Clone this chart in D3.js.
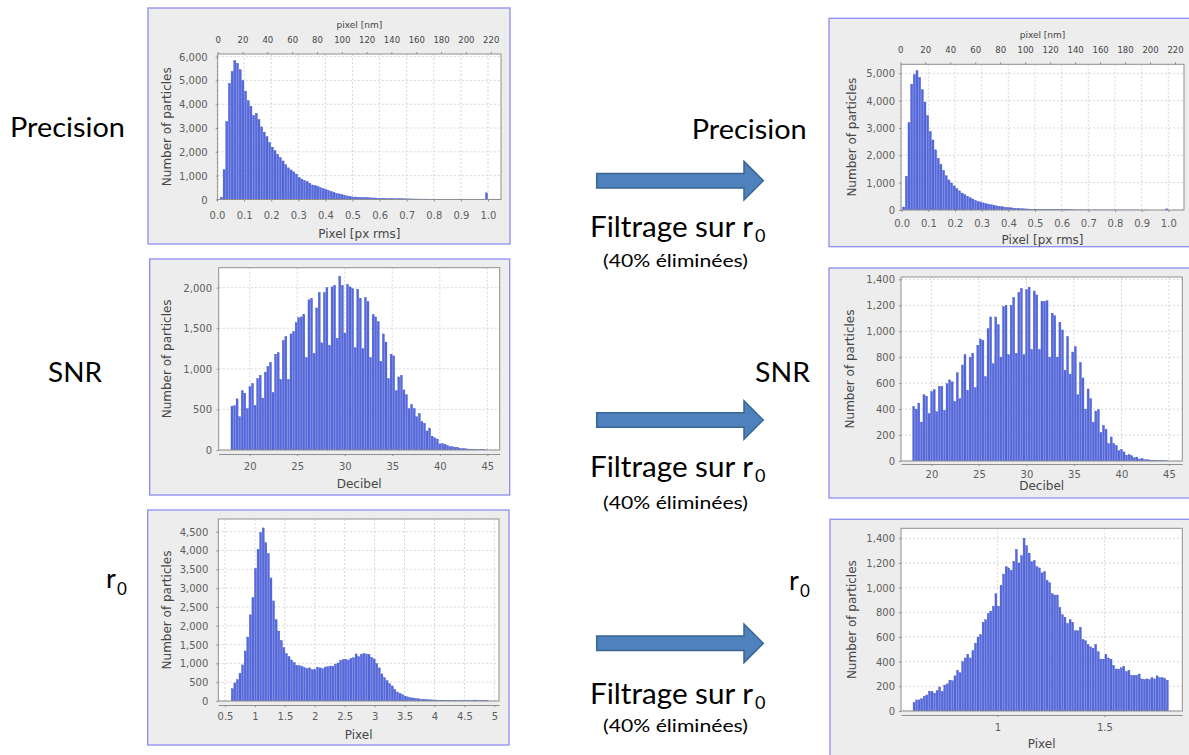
<!DOCTYPE html>
<html>
<head>
<meta charset="utf-8">
<script src="https://cdn.jsdelivr.net/npm/d3@7"></script>
<style>
body { margin: 0; background: #fff; }
svg { display: block; }
</style>
</head>
<body>
<script>
// histogram counts (100 bins per histogram)
var precision_before = [
  100,1250,3270,4880,5380,5830,5720,5450,5000,4550,
  4150,3920,3530,3620,3360,3050,2830,2640,2390,2200,
  2050,1900,1760,1620,1460,1330,1240,1160,1070,930,
  860,800,760,680,610,580,550,500,460,420,
  380,340,300,260,235,210,180,150,130,110,
  105,95,90,85,80,75,70,65,60,55,
  52,48,45,42,40,37,35,33,30,28,
  26,25,23,22,20,19,18,16,15,14,
  13,12,11,10,10,9,8,8,7,6,
  6,5,5,4,4,3,3,2,2,280];
var precision_after = [
  110,1230,3200,4600,4950,5100,4850,4400,3950,3450,
  2870,2560,2200,1890,1670,1450,1250,1100,990,880,
  780,700,620,560,500,450,400,350,310,290,
  260,230,210,190,170,150,135,120,105,95,
  85,75,65,58,52,45,40,35,30,28,
  25,22,20,18,16,14,13,12,11,10,
  9,8,8,7,6,6,5,5,4,4,
  3,3,3,3,2,2,2,2,2,1,
  1,1,1,1,1,1,1,1,1,0,
  0,1,0,0,0,0,0,0,0,40];
var snr_before = [
  540,545,630,410,730,700,510,780,820,550,
  880,920,640,960,1030,1080,710,1180,1200,870,
  1350,1400,870,1430,1460,1570,1630,1640,1670,1140,
  1850,1870,1190,1750,1940,1320,1940,2000,1290,2010,
  2030,1375,2140,2030,1440,2040,2010,1990,1260,1980,
  1870,1250,1880,1830,1140,1670,1640,1580,1090,1430,
  1330,880,1180,1160,730,900,920,740,680,510,
  560,510,410,450,350,330,235,270,170,150,
  135,75,80,70,55,40,40,33,28,20,
  18,15,12,10,8,6,5,4,3,2];
var snr_after = [
  420,400,445,300,510,500,365,535,550,380,
  575,575,390,595,625,610,460,680,480,740,
  820,545,800,830,565,890,940,930,650,1020,
  1110,750,1110,1050,800,1190,1200,820,1200,1260,
  830,1300,1330,820,1320,1340,860,1310,1280,860,
  1230,1230,1235,800,1140,1120,800,1070,1010,700,
  960,670,840,880,510,760,640,400,555,480,
  300,385,395,220,275,245,135,185,135,120,
  80,90,70,45,50,40,25,30,15,20,
  10,10,8,6,5,4,3,2,2,1];
var r0_before = [
  330,480,570,740,960,1330,1700,2290,2750,3520,
  4030,4480,4600,4210,3920,3270,2660,2160,1860,1610,
  1420,1260,1180,1090,1020,950,940,920,890,860,
  880,830,830,900,880,860,900,910,930,920,
  980,1010,1080,1100,1110,1090,1130,1150,1250,1180,
  1240,1260,1250,1240,1160,1120,1000,880,720,620,
  540,460,400,310,240,200,170,130,110,90,
  80,70,60,50,45,40,35,30,28,25,
  22,20,18,16,15,14,12,11,10,9,
  9,8,8,7,25,20,8,12,20,8];
var r0_after = [
  70,90,90,100,120,130,160,160,145,165,
  195,160,210,220,250,245,285,330,310,400,
  430,460,430,490,550,600,620,720,740,790,
  810,850,950,850,1020,1110,1170,1160,1140,1210,
  1310,1200,1260,1400,1340,1280,1210,1220,1170,1160,
  1120,1130,1060,1040,950,940,940,840,780,760,
  710,740,720,650,650,680,580,570,540,520,
  510,540,480,420,420,460,430,420,370,340,
  340,350,360,320,330,290,290,290,300,260,
  255,260,255,270,260,285,270,270,265,250];

// [first bin edge, bin width]
var precision_before_bins = [0.0115, 0.00988];
var precision_after_bins = [0.0025, 0.00997];
var snr_bins = [18.0, 0.27];
var r0_before_bins = [0.6, 0.0431];
var r0_after_bins = [0.605, 0.01195];

// tick values
var precision_ticks = [0, 0.1, 0.2, 0.3, 0.4, 0.5, 0.6, 0.7, 0.8, 0.9, 1.0];
var nm_ticks = [0, 20, 40, 60, 80, 100, 120, 140, 160, 180, 200, 220];
var snr_ticks = [20, 25, 30, 35, 40, 45];
var r0_before_ticks = [0.5, 1, 1.5, 2, 2.5, 3, 3.5, 4, 4.5, 5];
var r0_after_ticks = [1, 1.5];
var count_ticks_6000 = [0, 1000, 2000, 3000, 4000, 5000, 6000];
var count_ticks_5000 = [0, 1000, 2000, 3000, 4000, 5000];
var count_ticks_2000 = [0, 500, 1000, 1500, 2000];
var count_ticks_4500 = [0, 500, 1000, 1500, 2000, 2500, 3000, 3500, 4000, 4500];
var count_ticks_1400 = [0, 200, 400, 600, 800, 1000, 1200, 1400];

var row_titles = ['Precision', 'SNR', 'r'];
var filter_text = 'Filtrage sur r';
var filter_note = '(40% éliminées)';

var W = 1189, H = 755;
var svg = d3.select('body').append('svg').attr('width', W).attr('height', H);
svg.append('rect').attr('width', W).attr('height', H).attr('fill', '#fff');

var fmt1 = d3.format('.1f'), fmtg = d3.format('.1~f'), fmtc = d3.format(',');

// layout of each chart panel: frame box, plot box [x0,y0,x1,y1], axis placement
var panels = [
  {counts: precision_before, bins: precision_before_bins, frame: [148, 8, 510, 244], plot: [217.7, 54, 501, 199.5],
   xdom: [0.0026, 1.048], ymax: 6110, xticks: precision_ticks, yticks: count_ticks_6000, xfmt: fmt1,
   xlabel: 'Pixel [px rms]', axoff: 0, tickcy: 215, labcy: 233.5, yright: 207.7, ylabcx: 166.7,
   top: {dom: [0, 228.3], tickcy: 40, labcy: 25}},
  {counts: precision_after, bins: precision_after_bins, frame: [829, 18.3, 1195, 246.7], plot: [901, 64.3, 1184, 210],
   xdom: [-0.0026, 1.0589], ymax: 5329, xticks: precision_ticks, yticks: count_ticks_5000, xfmt: fmt1,
   xlabel: 'Pixel [px rms]', axoff: 0, tickcy: 223.3, labcy: 240, yright: 895, ylabcx: 851.7,
   top: {dom: [0.56, 227.2], tickcy: 50, labcy: 35}},
  {counts: snr_before, bins: snr_bins, frame: [149.7, 259, 509.7, 495], plot: [218.7, 267.7, 499.7, 450],
   xdom: [16.74, 46.3], ymax: 2246, xticks: snr_ticks, yticks: count_ticks_2000, xfmt: fmtg,
   xlabel: 'Decibel', axoff: 4, tickcy: 466.7, labcy: 483.3, yright: 212, ylabcx: 166.3},
  {counts: snr_after, bins: snr_bins, frame: [829, 268, 1195, 498], plot: [901, 277, 1182.3, 461],
   xdom: [16.8, 46.41], ymax: 1418, xticks: snr_ticks, yticks: count_ticks_1400, xfmt: fmtg,
   xlabel: 'Decibel', axoff: 3, tickcy: 474.5, labcy: 486, yright: 895, ylabcx: 850},
  {counts: r0_before, bins: r0_before_bins, frame: [147.7, 510, 509, 745], plot: [218.3, 519, 499, 701],
   xdom: [0.388, 5.078], ymax: 4837, xticks: r0_before_ticks, yticks: count_ticks_4500, xfmt: fmtg,
   xlabel: 'Pixel', axoff: 4, tickcy: 716.7, labcy: 734.3, yright: 208.3, ylabcx: 166.7},
  {counts: r0_after, bins: r0_after_bins, frame: [830, 519.3, 1195, 762], plot: [901, 528.3, 1182.3, 711],
   xdom: [0.55, 1.864], ymax: 1481, xticks: r0_after_ticks, yticks: count_ticks_1400, xfmt: fmtg,
   xlabel: 'Pixel', axoff: 4, tickcy: 727.3, labcy: 743.3, yright: 895, ylabcx: 851.7}
];

var chart_font = 'DejaVu Sans, Verdana, sans-serif';

function draw_panel(p, k) {
  var g = svg.append('g');
  var f = p.frame, b = p.plot;
  g.append('rect').attr('x', f[0]).attr('y', f[1]).attr('width', f[2] - f[0]).attr('height', f[3] - f[1])
    .attr('fill', '#ededed').attr('stroke', '#8c8cf2').attr('stroke-width', 1.3);

  var x = d3.scaleLinear().domain(p.xdom).range([b[0], b[2]]);
  var y = d3.scaleLinear().domain([0, p.ymax]).range([b[3], b[1]]);

  g.append('rect').attr('x', b[0]).attr('y', b[1]).attr('width', b[2] - b[0]).attr('height', b[3] - b[1]).attr('fill', '#fff');

  // dashed grid
  var grid = g.append('g').attr('stroke', '#cdcdcd').attr('stroke-width', 0.8).attr('stroke-dasharray', '2,2');
  grid.selectAll('line.vx').data(p.xticks).enter().append('line').attr('class', 'vx')
    .attr('x1', d => x(d)).attr('x2', d => x(d)).attr('y1', b[1]).attr('y2', b[3]);
  grid.selectAll('line.hy').data(p.yticks).enter().append('line').attr('class', 'hy')
    .attr('x1', b[0]).attr('x2', b[2]).attr('y1', d => y(d)).attr('y2', d => y(d));

  // bars, one per bin
  var clip = 'clip' + k;
  g.append('clipPath').attr('id', clip).append('rect')
    .attr('x', b[0]).attr('y', b[1]).attr('width', b[2] - b[0]).attr('height', b[3] - b[1]);
  var start = p.bins[0], w = p.bins[1];
  var bars = p.counts.map((c, i) => ({c: c, x0: start + i * w, x1: start + (i + 1) * w})).filter(d => d.c > 0);
  g.append('g').attr('clip-path', 'url(#' + clip + ')').selectAll('rect').data(bars).enter().append('rect')
    .attr('x', d => x(d.x0) + 0.3)
    .attr('width', d => Math.max(0.6, x(d.x1) - x(d.x0) - 0.6))
    .attr('y', d => y(d.c))
    .attr('height', d => y(0) - y(d.c))
    .attr('fill', '#5569dc')
    .attr('stroke', '#3d51cc').attr('stroke-width', 0.35);

  g.append('rect').attr('x', b[0]).attr('y', b[1]).attr('width', b[2] - b[0]).attr('height', b[3] - b[1])
    .attr('fill', 'none').attr('stroke', '#8f8f8f').attr('stroke-width', 1);

  // left axis
  var ya = g.append('g').attr('transform', 'translate(' + b[0] + ',0)')
    .call(d3.axisLeft(y).tickValues(p.yticks).tickFormat(fmtc).tickSize(2).tickSizeOuter(0));
  ya.select('.domain').remove();
  ya.selectAll('text').attr('x', p.yright - b[0]).attr('dy', '0.35em');

  // bottom axis
  var axy = b[3] + p.axoff;
  var xa = g.append('g').attr('transform', 'translate(0,' + axy + ')')
    .call(d3.axisBottom(x).tickValues(p.xticks).tickFormat(p.xfmt).tickSize(2).tickSizeOuter(0));
  if (p.axoff === 0) xa.select('.domain').remove();
  xa.selectAll('text').attr('y', p.tickcy - axy).attr('dy', '0.35em');

  [ya, xa].forEach(function(a) {
    a.selectAll('.domain, line').attr('stroke', '#8f8f8f').attr('stroke-width', 1);
    a.selectAll('text').attr('fill', '#5e5e5e').style('font-family', chart_font).style('font-size', '10px');
  });

  if (p.top) {
    var nm = d3.scaleLinear().domain(p.top.dom).range([b[0], b[2]]);
    var ta = g.append('g').attr('transform', 'translate(0,' + b[1] + ')')
      .call(d3.axisTop(nm).tickValues(nm_ticks).tickFormat(d3.format('d')).tickSize(2).tickSizeOuter(0));
    ta.select('.domain').remove();
    ta.selectAll('line').attr('stroke', '#8f8f8f');
    ta.selectAll('text').attr('y', p.top.tickcy - b[1]).attr('dy', '0.35em')
      .attr('fill', '#444').style('font-family', chart_font).style('font-size', '8.5px');
    g.append('text').attr('x', (b[0] + b[2]) / 2).attr('y', p.top.labcy).attr('dy', '0.35em')
      .attr('text-anchor', 'middle').attr('fill', '#444')
      .style('font-family', chart_font).style('font-size', '9px').text('pixel [nm]');
  }

  g.append('text').attr('x', (b[0] + b[2]) / 2).attr('y', p.labcy).attr('dy', '0.35em')
    .attr('text-anchor', 'middle').attr('fill', '#474747')
    .style('font-family', chart_font).style('font-size', '12px').text(p.xlabel);
  g.append('text').attr('transform', 'translate(' + p.ylabcx + ',' + ((b[1] + b[3]) / 2) + ') rotate(-90)')
    .attr('dy', '0.35em').attr('text-anchor', 'middle').attr('fill', '#474747')
    .style('font-family', chart_font).style('font-size', '12px').text('Number of particles');
}

panels.forEach(draw_panel);

// row titles (left and right columns)
var big_font = 'Lato, Carlito, Calibri, sans-serif';
var titles = [
  {t: row_titles[0], x: 10, y: 137.3, w: 115}, {t: row_titles[0], x: 691.7, y: 139.3, w: 115},
  {t: row_titles[1], x: 48, y: 382, w: 54}, {t: row_titles[1], x: 755, y: 382, w: 55},
  {t: row_titles[2], x: 106, y: 588, sub: true}, {t: row_titles[2], x: 789, y: 590, sub: true}
];
titles.forEach(function(d) {
  var t = svg.append('text').attr('x', d.x).attr('y', d.y).attr('fill', '#000')
    .style('font-family', big_font).style('font-size', '27px').text(d.t);
  if (d.w) t.attr('textLength', d.w).attr('lengthAdjust', 'spacingAndGlyphs');
  if (d.sub) {
    svg.append('text').attr('x', d.x + 11).attr('y', d.y + 7).attr('fill', '#000')
      .style('font-family', big_font).style('font-size', '17px').text('0');
  }
});

// arrows with the filtering captions
var arrow_rows = [
  {cy: 180.7, ty: 237.3, ny: 267},
  {cy: 420, ty: 476.5, ny: 508.5},
  {cy: 643.3, ty: 704, ny: 732}
];
var ax0 = 596.7, axh = 744, axt = 763.3, shaft = 7.3, head = 19.3;
arrow_rows.forEach(function(r) {
  var pts = [[ax0, r.cy - shaft], [axh, r.cy - shaft], [axh, r.cy - head], [axt, r.cy],
             [axh, r.cy + head], [axh, r.cy + shaft], [ax0, r.cy + shaft]];
  svg.append('path').attr('d', d3.line()(pts) + 'Z')
    .attr('fill', '#4f81bd').attr('stroke', '#3a6596').attr('stroke-width', 1.5);
  svg.append('text').attr('x', 590).attr('y', r.ty).attr('fill', '#000')
    .attr('textLength', 163).attr('lengthAdjust', 'spacingAndGlyphs')
    .style('font-family', big_font).style('font-size', '28px').text(filter_text);
  svg.append('text').attr('x', 755).attr('y', r.ty + 5).attr('fill', '#000')
    .style('font-family', big_font).style('font-size', '18px').text('0');
  svg.append('text').attr('x', 675.5).attr('y', r.ny).attr('text-anchor', 'middle').attr('fill', '#000')
    .attr('textLength', 145).attr('lengthAdjust', 'spacingAndGlyphs')
    .style('font-family', big_font).style('font-size', '17px').text(filter_note);
});
</script>
</body>
</html>
